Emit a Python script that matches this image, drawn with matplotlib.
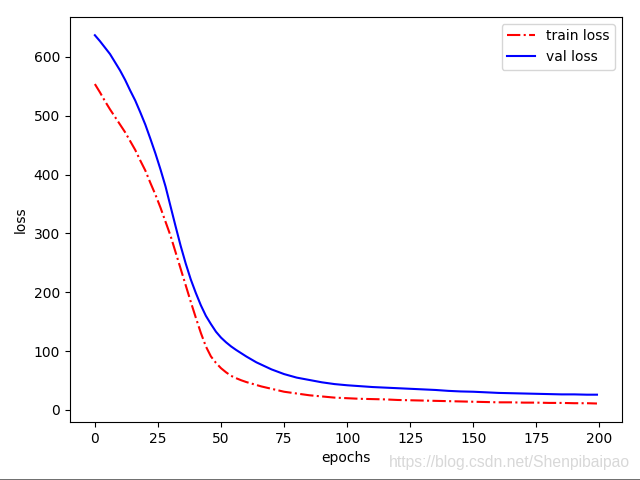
import matplotlib

matplotlib.use("Agg")
import matplotlib.pyplot as plt
from matplotlib.lines import Line2D

# loss values (denser sampling where the curves bend)
epochs = list(range(0, 70, 2)) + list(range(70, 200, 5)) + [199]
train_loss = [554, 540, 525, 511, 498, 485, 472, 457, 442, 424,
              407, 386, 366, 344, 320, 296, 268, 240, 212, 184,
              157, 131, 108, 91, 80, 71, 64, 58, 54, 50.5,
              47.5, 45, 42.5, 40, 38,
              36, 31, 28, 25, 23, 21,
              20, 19, 18.5, 18, 17, 16.5, 16, 15.5, 15, 14.5,
              14, 13.5, 13, 13, 12.5, 12.5, 12, 12, 11.5, 11.5, 11]
val_loss = [637, 627, 616, 605, 591, 577, 561, 543, 526, 506,
            485, 461, 436, 409, 380, 346, 312, 279, 249, 222,
            199, 178, 160, 146, 133, 123, 115, 108, 102, 96.5,
            91, 86, 81, 77, 73,
            69, 61, 55, 51, 47, 44,
            42, 40.5, 39, 38, 37, 36, 35, 34, 32.5, 31.5,
            31, 30, 29, 28.5, 28, 27.5, 27, 26.5, 26.5, 26, 26]

fig, ax = plt.subplots(figsize=(6.4, 4.8), dpi=100)
fig.subplots_adjust(left=0.109, right=0.972, top=0.965, bottom=0.121)

ax.plot(epochs, train_loss, "r-.", label="train loss")
ax.plot(epochs, val_loss, "b-", label="val loss")
ax.set_xlabel("epochs")
ax.set_ylabel("loss")
ax.legend(loc="upper right")

# csdn watermark + thin edge at the bottom of the screenshot
fig.text(0.984, 0.037, "https://blog.csdn.net/Shenpibaipao", ha="right", va="center",
         color="#d8d8d8", fontsize=11.3, family="Liberation Sans")
fig.add_artist(Line2D([0, 1], [0.001, 0.001], color="#555555", lw=1.2, transform=fig.transFigure))

fig.savefig("out.png")
